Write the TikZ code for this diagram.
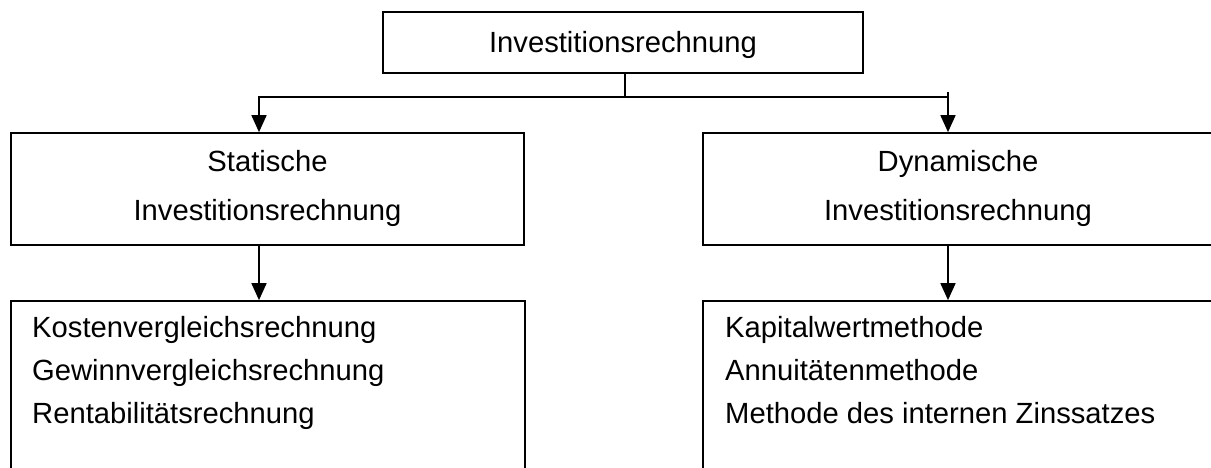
\documentclass[tikz,border=0pt]{standalone}
\usepackage{fontspec}
\setmainfont{Liberation Sans}
\usetikzlibrary{arrows.meta}
\begin{document}
\begin{tikzpicture}[x=1pt,y=-1pt,
  box/.style={draw,line width=1.7pt,inner sep=0pt,minimum width=#1},
  lbl/.style={font=\fontsize{29.2pt}{46pt}\selectfont,inner sep=0pt},
  conn/.style={line width=1.7pt},
  arr/.style={line width=1.7pt,-{Triangle[length=17pt,width=15pt]}}]
\useasboundingbox (0,0) rectangle (1211,468);
\clip (0,0) rectangle (1211,468);
% boxes
\node[box=480pt,minimum height=61pt] (top) at (623,42.5) {};
\node[box=513pt,minimum height=112pt] (sta) at (267.5,189) {};
\node[box=510pt,minimum height=112pt] (dyn) at (958,189) {};
\node[box=514pt,minimum height=200pt] (kst) at (268,401) {};
\node[box=510pt,minimum height=200pt] (dyl) at (958,401) {};
% texts
\node[lbl,anchor=base] (ttop) at (623,52.5) {Investitionsrechnung};
\node[lbl,anchor=base] (tsta1) at (267.5,172) {Statische};
\node[lbl,anchor=base] (tsta2) at (267.5,221) {Investitionsrechnung};
\node[lbl,anchor=base] (tdyn1) at (958,172) {Dynamische};
\node[lbl,anchor=base] (tdyn2) at (958,221) {Investitionsrechnung};
\node[lbl,anchor=base west] (k1) at (32,337) {Kostenvergleichsrechnung};
\node[lbl,anchor=base west] (k2) at (32,380) {Gewinnvergleichsrechnung};
\node[lbl,anchor=base west] (k3) at (32,423) {Rentabilitätsrechnung};
\node[lbl,anchor=base west] (d1) at (725,337) {Kapitalwertmethode};
\node[lbl,anchor=base west] (d2) at (725,380) {Annuitätenmethode};
\node[lbl,anchor=base west] (d3) at (725,423) {Methode des internen Zinssatzes};
% connectors
\coordinate (jL) at (259,97);
\coordinate (jR) at (948,97);
\coordinate (jRt) at (948,92);
\draw[conn] ([xshift=2pt]top.south) -- ([xshift=2pt]top.south |- jL);
\draw[arr] (jR) -- (jL) -- (jL |- sta.north);
\draw[arr] (jRt) -- (jR |- dyn.north);
\draw[arr] (jL |- sta.south) -- (jL |- kst.north);
\draw[arr] (jR |- dyn.south) -- (jR |- dyl.north);
\end{tikzpicture}
\end{document}
